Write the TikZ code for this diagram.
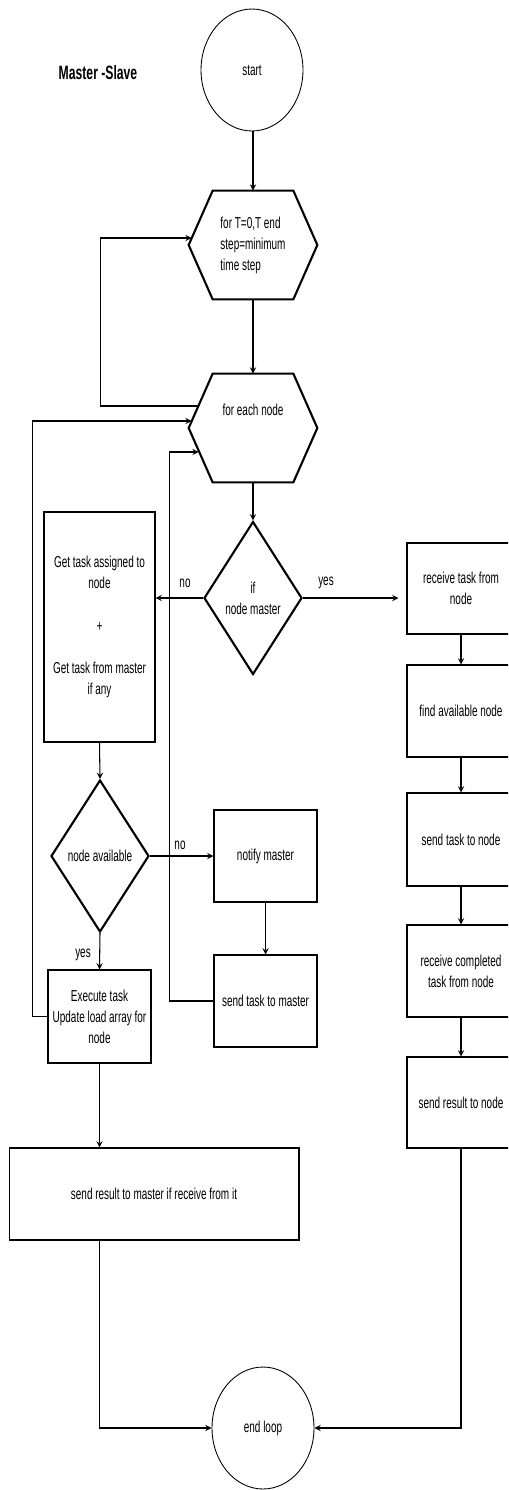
\documentclass[tikz,border=0pt]{standalone}
\usepackage{fontspec}
\setmainfont{Liberation Sans}[FakeStretch=0.63]
\usetikzlibrary{calc,shapes.geometric}

\tikzset{
  txt/.style={font=\fontsize{9pt}{12pt}\selectfont, align=center},
  box/.style={txt, draw, line width=0.6pt, inner sep=0pt, minimum width=2.06cm, minimum height=1.84cm},
  sidebox/.style={box, minimum width=2.16cm},
  terminal/.style={txt, ellipse, draw, line width=0.5pt, inner sep=0pt, minimum width=2.04cm, minimum height=2.44cm},
  hexnode/.style={txt, rectangle, inner sep=0pt, minimum width=2.56cm, minimum height=2.16cm},
  hexline/.style={line width=1.2pt, line join=miter},
  decision/.style={txt, diamond, draw, line width=1.2pt, inner sep=0pt, minimum width=1.96cm, minimum height=3.06cm},
  arrow/.style={line width=0.6pt, -stealth},
}

% outline of a loop hexagon around a named node
\newcommand{\hexframe}[1]{%
  \draw[hexline] ($(#1.north west)+(24,0)$) -- ($(#1.north east)+(-24,0)$) -- (#1.east)
    -- ($(#1.south east)+(-24,0)$) -- ($(#1.south west)+(24,0)$) -- (#1.west) -- cycle;}

\begin{document}
\begin{tikzpicture}[x=0.02cm, y=-0.02cm]
        \useasboundingbox (0,0) rectangle (508,1490);
        \clip (0,0) rectangle (508,1490);

        % title and start
        \node[txt, font=\fontsize{11pt}{13pt}\selectfont\bfseries] (title) at (98,73) {Master -Slave};
        \node[terminal] (start) at (252,70) {start};

        % the two loops
        \node[hexnode, align=left] (loopT) at (253,245) {for T=0,T end\\step=minimum\\time step};
        \hexframe{loopT}
        \node[hexnode, text depth=0.72cm] (each) at (253,428) {for each node};
        \hexframe{each}

        % master test
        \node[decision] (master) at (253,598) {if\\node master};

        % slave side
        \node[box, minimum width=2.22cm, minimum height=4.6cm] (getT) at (99.5,627) {Get task assigned to\\node\\[12pt]+\\[12pt]Get task from master\\if any};
        \node[decision, minimum height=3.04cm] (avail) at (100,856) {node available};
        \node[box] (notify) at (265.5,856) {notify master};
        \node[box] (sendM) at (265.5,1001) {send task to master};
        \node[box, minimum height=1.86cm] (exec) at (99.5,1016.5) {Execute task\\Update load array for\\node};
        \node[box, minimum width=5.8cm] (resM) at (154,1194) {send result to master if receive from it};

        % master side (right edges fall outside the picture)
        \node[sidebox, minimum height=1.82cm] (recv) at (461,588.5) {receive task from\\node};
        \node[sidebox] (find) at (461,711) {find available node};
        \node[sidebox, minimum height=1.86cm] (sendN) at (461,839.5) {send task to node};
        \node[sidebox] (recvC) at (461,971) {receive completed\\task from node};
        \node[sidebox, minimum height=1.82cm] (sendR) at (461,1102.5) {send result to node};

        \node[terminal] (endL) at (263,1428) {end loop};

        % branch labels
        \node[txt] (noM) at (185,583) {no};
        \node[txt] (yesM) at (326,583) {yes};
        \node[txt] (noA) at (180,845) {no};
        \node[txt] (yesA) at (83,955) {yes};

        % connectors
        \draw[arrow] (loopT.north |- start.south) -- (loopT.north);
        \draw[arrow] (loopT.south) -- (each.north);
        \draw[arrow] ($(each.west)+(10,-22)$) -| ($(loopT.west)+(-88,-7)$) -- ($(loopT.west)+(3,-7)$);
        \draw[arrow] (each.south) -- (master.north);
        \draw[arrow] (master.west) -- (master.west -| getT.east);
        \draw[arrow, shorten >=0.16cm] (master.east) -- (master.east -| recv.west);
        \draw[arrow] (getT.south) -- (avail.north);
        \draw[arrow] (avail.east) -- (notify.west);
        \draw[arrow] (avail.south) -- (exec.north);
        \draw[arrow] (notify.south) -- (sendM.north);
        \draw[arrow] (sendM.west) -| ($(each.west)+(-19,24)$) -- ($(each.west)+(10,24)$);
        \draw[arrow] (exec.west) -| ($(each.west)+(-156,-7)$) -- ($(each.west)+(3,-7)$);
        \draw[arrow] (exec.south) -- (exec.south |- resM.north);
        \draw[arrow] (exec.south |- resM.south) |- (endL.west);
        \draw[arrow] (recv.south) -- (find.north);
        \draw[arrow] (find.south) -- (sendN.north);
        \draw[arrow] (sendN.south) -- (recvC.north);
        \draw[arrow] (recvC.south) -- (sendR.north);
        \draw[arrow] (sendR.south) |- (endL.east);

    \end{tikzpicture}
\end{document}
